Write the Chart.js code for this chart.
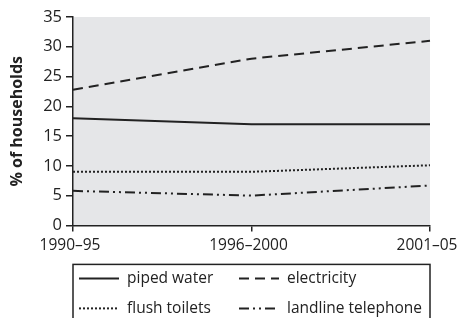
<!DOCTYPE html>
<html>
<head>
<meta charset="utf-8">
<script src="https://cdn.jsdelivr.net/npm/chart.js@4"></script>
<style>
  html, body { margin: 0; padding: 0; background: #fff; }
  #wrap { width: 459px; height: 318px; }
</style>
</head>
<body>
<div id="wrap"><canvas id="householdChart" width="459" height="318"></canvas></div>
<script>
// Data
const periods = ["1990\u201395", "1996\u20132000", "2001\u201305"];
const pipedWater = [18, 17, 17];
const electricity = [22.8, 28, 31];
const flushToilets = [9, 9, 10.1];
const landline = [5.8, 5, 6.7];
const yTicks = [0, 5, 10, 15, 20, 25, 30, 35];

const FONT = "'Open Sans', sans-serif";

// gray plot background
const plotBg = {
    id: "plotBg",
    beforeDraw(chart) {
        const { ctx, chartArea: a } = chart;
        ctx.save();
        ctx.fillStyle = "#e5e6e8";
        ctx.fillRect(a.left, a.top, a.right - a.left, a.bottom - a.top);
        ctx.restore();
    },
};

// boxed two-column legend under the axis
const boxLegend = {
    id: "boxLegend",
    afterDraw(chart) {
        const { ctx, chartArea: a } = chart;
        const top = a.bottom + 39;
        ctx.save();
        ctx.strokeStyle = "#222";
        ctx.lineWidth = 1.5;
        ctx.strokeRect(a.left, top, a.right - a.left, 80);
        ctx.font = "15.5px " + FONT;
        ctx.fillStyle = "#222";
        ctx.textBaseline = "middle";
        const cols = [a.left + 6, a.left + 166];
        const rows = [top + 14, top + 44];
        chart.data.datasets.forEach((ds, i) => {
            const x = cols[i % 2];
            const y = rows[Math.floor(i / 2)];
            ctx.beginPath();
            ctx.setLineDash(ds.borderDash || []);
            ctx.lineWidth = ds.borderWidth;
            ctx.strokeStyle = ds.borderColor;
            ctx.moveTo(x, y);
            ctx.lineTo(x + 40, y);
            ctx.stroke();
            ctx.setLineDash([]);
            ctx.fillText(ds.label, x + 48, y);
        });
        ctx.restore();
    },
};

new Chart(document.getElementById("householdChart"), {
    type: "line",
    data: {
        labels: periods,
        datasets: [
            { label: "piped water", data: pipedWater, borderColor: "#222", borderWidth: 2, borderDash: [] },
            { label: "electricity", data: electricity, borderColor: "#222", borderWidth: 2, borderDash: [10, 6] },
            { label: "flush toilets", data: flushToilets, borderColor: "#222", borderWidth: 2, borderDash: [2, 2] },
            { label: "landline telephone", data: landline, borderColor: "#222", borderWidth: 2, borderDash: [10, 4, 2, 4, 2, 4] },
        ],
    },
    options: {
        responsive: false,
        animation: false,
        layout: { padding: { top: 17, right: 29, bottom: 58, left: 8 } },
        elements: { point: { radius: 0 }, line: { tension: 0 } },
        plugins: { legend: { display: false }, tooltip: { enabled: false } },
        scales: {
            x: {
                offset: false,
                afterFit(scale) { scale.paddingLeft = 0; scale.paddingRight = 0; },
                grid: { drawOnChartArea: false, drawTicks: true, tickLength: 6, color: "#222", lineWidth: 1.5 },
                border: { color: "#222", width: 1.5 },
                ticks: { color: "#222", font: { family: FONT, size: 15.5 }, padding: 5, maxRotation: 0, labelOffset: -3 },
            },
            y: {
                min: 0,
                max: 35,
                afterBuildTicks(scale) { scale.ticks = yTicks.map(v => ({ value: v })); },
                afterFit(scale) { scale.width = 65; },
                grid: { drawOnChartArea: false, drawTicks: true, tickLength: 7, color: "#222", lineWidth: 1.5 },
                border: { color: "#222", width: 1.5 },
                ticks: { color: "#222", font: { family: FONT, size: 16.5 }, padding: 4 },
                title: { display: true, text: "% of households", color: "#222", font: { family: FONT, size: 16, weight: "bold" }, padding: 0 },
            },
        },
    },
    plugins: [plotBg, boxLegend],
});
</script>
</body>
</html>
